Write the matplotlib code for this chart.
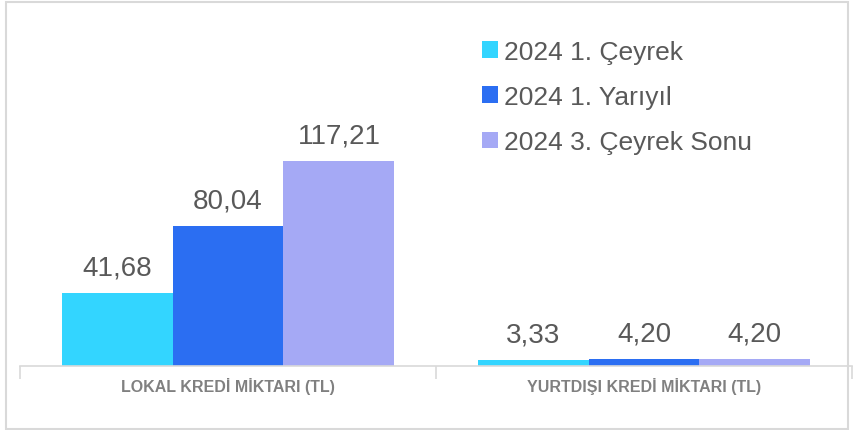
import matplotlib
matplotlib.use('Agg')
import matplotlib.pyplot as plt
from matplotlib.patches import Rectangle
import numpy as np

# --- datos ---
categorias = ["LOKAL KREDİ MİKTARI (TL)", "YURTDIŞI KREDİ MİKTARI (TL)"]
series = ["2024 1. Çeyrek", "2024 1. Yarıyıl", "2024 3. Çeyrek Sonu"]
q1_2024 = [41.68, 3.33]
h1_2024 = [80.04, 4.20]
q3_2024 = [117.21, 4.20]
colores = ["#33D5FF", "#2B6EF2", "#A5A9F5"]

W, H = 857, 431
fig = plt.figure(figsize=(W / 100, H / 100), dpi=100)
plt.rcParams['font.family'] = ['Liberation Sans', 'DejaVu Sans']

# marco gris del gráfico
fig.patches.append(Rectangle((6 / W, 1 / H), 842 / W, 427 / H, transform=fig.transFigure,
                             fill=False, edgecolor="#d9d9d9", linewidth=1.5))

ax = fig.add_axes([20 / W, (H - 367) / H, 832 / W, 347 / H])
x = np.arange(len(categorias))
ancho = 0.8 / 3
valores = [q1_2024, h1_2024, q3_2024]
for i, (nombre, vals) in enumerate(zip(series, valores)):
    barras = ax.bar(x + (i - 1) * ancho, vals, ancho, color=colores[i], label=nombre)
    ax.bar_label(barras, labels=[f"{v:.2f}".replace(".", ",") for v in vals],
                 padding=9, fontsize=20, color="#595959")

ax.set_xlim(-0.5, 1.5)
ax.set_ylim(0, 198)
ax.set_yticks([])
for lado in ["top", "right", "left"]:
    ax.spines[lado].set_visible(False)
ax.spines["bottom"].set_color("#d9d9d9")
ax.spines["bottom"].set_linewidth(1.2)

ax.set_xticks(x)
ax.set_xticklabels(categorias, fontsize=11.5, fontweight="bold", color="#808080")
ax.tick_params(axis="x", which="major", length=0, pad=8)
ax.set_xticks([-0.5, 0.5, 1.5], minor=True)
ax.tick_params(axis="x", which="minor", length=9, color="#d9d9d9", width=1.2)

ax.legend(loc="upper left", bbox_to_anchor=(482 / W, 1 - 41 / H), bbox_transform=fig.transFigure,
          frameon=False, fontsize=19, labelcolor="#595959", handlelength=0.6, handleheight=0.6,
          handletextpad=0.25, labelspacing=0.8, borderaxespad=0, borderpad=0)

fig.savefig("out.png", dpi=100)
